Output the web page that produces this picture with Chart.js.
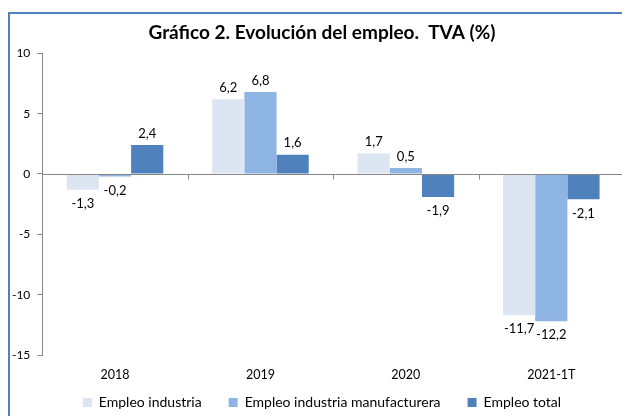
<!DOCTYPE html>
<html>
<head>
<meta charset="utf-8">
<script src="https://cdn.jsdelivr.net/npm/chart.js@4/dist/chart.umd.min.js"></script>
<style>
  html, body { margin: 0; padding: 0; background: #fff; overflow: hidden; width: 622px; height: 416px; }
  #box { position: absolute; left: 8px; top: 12px; width: 624px; height: 404px;
         border-left: 2px solid #4F81BD; border-top: 2px solid #4F81BD; }
  canvas { display: block; }
</style>
</head>
<body>
<div id="box"><canvas id="c" width="624" height="404"></canvas></div>
<script>
const categories = ["2018", "2019", "2020", "2021-1T"];
const empleoIndustria = [-1.3, 6.2, 1.7, -11.7];
const empleoManufacturera = [-0.2, 6.8, 0.5, -12.2];
const empleoTotal = [2.4, 1.6, -1.9, -2.1];
const seriesNames = ["Empleo industria", "Empleo industria manufacturera", "Empleo total"];
const yTicks = [-15, -10, -5, 0, 5, 10];
const titleText = "Gráfico 2. Evolución del empleo.  TVA (%)";

const FONT = "Lato, 'Liberation Sans', sans-serif";
const AXIS_GRAY = "#868686";

const fmt = v => v.toFixed(1).replace(".", ",");

const zeroLinePlugin = {
  id: "zeroLine",
  afterDatasetsDraw(chart) {
    const {ctx, chartArea, scales} = chart;
    const y0 = Math.round(scales.y.getPixelForValue(0)) + 0.5;
    ctx.save();
    ctx.strokeStyle = AXIS_GRAY;
    ctx.lineWidth = 1;
    ctx.beginPath();
    ctx.moveTo(chartArea.left, y0);
    ctx.lineTo(chartArea.right, y0);
    const n = categories.length;
    for (let i = 1; i < n; i++) {
      const x = Math.round((scales.x.getPixelForValue(i - 1) + scales.x.getPixelForValue(i)) / 2) + 0.5;
      ctx.moveTo(x, y0);
      ctx.lineTo(x, y0 + 5);
    }
    ctx.stroke();
    ctx.restore();
  }
};

const labelPlugin = {
  id: "valueLabels",
  afterDatasetsDraw(chart) {
    const {ctx} = chart;
    ctx.save();
    ctx.font = "13px " + FONT;
    ctx.fillStyle = "#000";
    ctx.textAlign = "center";
    ctx.textBaseline = "middle";
    chart.data.datasets.forEach((ds, di) => {
      const meta = chart.getDatasetMeta(di);
      meta.data.forEach((el, i) => {
        const v = ds.data[i];
        const y = v >= 0 ? el.y - 11.5 : el.y + 14;
        ctx.fillText(fmt(v), el.x, y);
      });
    });
    ctx.restore();
  }
};

new Chart(document.getElementById("c"), {
  type: "bar",
  data: {
    labels: categories,
    datasets: [
      { label: seriesNames[0], data: empleoIndustria, backgroundColor: "#DCE6F2" },
      { label: seriesNames[1], data: empleoManufacturera, backgroundColor: "#8DB4E2" },
      { label: seriesNames[2], data: empleoTotal, backgroundColor: "#4F81BD" }
    ]
  },
  plugins: [zeroLinePlugin, labelPlugin],
  options: {
    responsive: false,
    devicePixelRatio: 1,
    animation: false,
    layout: { padding: { left: 10, right: 10, top: 0, bottom: -1.5 } },
    datasets: { bar: { categoryPercentage: 0.664, barPercentage: 1.0, borderWidth: 0 } },
    plugins: {
      title: {
        display: true,
        text: titleText,
        color: "#000",
        font: { family: FONT, size: 19, weight: "bold" },
        padding: { top: 7.6, bottom: 8.9 }
      },
      legend: {
        position: "bottom",
        labels: {
          boxWidth: 9, boxHeight: 9, padding: 27,
          color: "#000",
          font: { family: FONT, size: 14 }
        }
      },
      tooltip: { enabled: false }
    },
    scales: {
      x: {
        grid: { display: false },
        border: { display: false },
        ticks: { color: "#000", font: { family: FONT, size: 12.5 }, padding: 4, maxRotation: 0 },
        afterFit(scale) { scale.height = 13.5; scale._computeLabelArea = () => undefined; }
      },
      y: {
        min: -15, max: 10,
        afterBuildTicks(scale) { scale.ticks = yTicks.map(v => ({ value: v })); },
        grid: { drawOnChartArea: false, drawTicks: true, tickLength: 5, color: AXIS_GRAY },
        border: { display: true, color: AXIS_GRAY },
        ticks: { color: "#000", font: { family: FONT, size: 12 }, padding: 7 },
        afterFit(scale) { scale.width = 22.3; scale._computeLabelArea = () => undefined; }
      }
    }
  }
});
</script>
</body>
</html>
